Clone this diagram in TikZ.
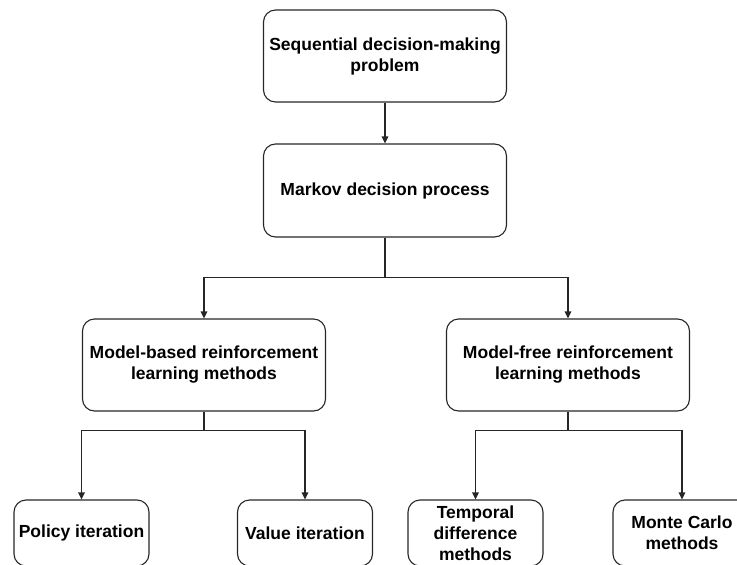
\documentclass[tikz,border=0pt]{standalone}
\usepackage{fontspec}
\setmainfont{Liberation Sans}
\usetikzlibrary{arrows.meta}
\begin{document}
\begin{tikzpicture}[x=1pt,y=-1pt,
  box/.style={draw=black!85, line width=1.1pt, rounded corners=12pt, align=center,
    font=\fontsize{17.5}{21}\selectfont\bfseries, inner sep=1pt},
  big/.style={box, minimum width=243pt, minimum height=92pt},
  small/.style={box, minimum width=135pt, minimum height=66pt},
  conn/.style={draw=black!85, line width=1.1pt},
  arr/.style={conn, -{Triangle[length=7pt,width=6.5pt]}}]
\useasboundingbox (0,0) rectangle (737,565);
\node[big] (seq) at (385,56) {Sequential decision-making\\problem};
\node[big, minimum height=93pt] (mdp) at (385,190.5) {Markov decision process};
\node[big] (mb) at (204,365) {Model-based reinforcement\\learning methods};
\node[big] (mf) at (568,365) {Model-free reinforcement\\learning methods};
\node[small] (pi) at (81.5,533) {Policy iteration};
\node[small] (vi) at (305,533) {Value iteration};
\node[small] (td) at (475.5,533) {Temporal\\difference\\methods};
\node[small, minimum width=138pt] (mc) at (682,533) {Monte Carlo\\methods};
\draw[arr] (seq) -- (mdp);
\draw[arr] (mdp.south) -- ++(0,40) -| (mb.north);
\draw[arr] (mdp.south) -- ++(0,40) -| (mf.north);
\draw[arr] (mb.south) -- ++(0,19) -| (pi.north);
\draw[arr] (mb.south) -- ++(0,19) -| (vi.north);
\draw[arr] (mf.south) -- ++(0,19) -| (td.north);
\draw[arr] (mf.south) -- ++(0,19) -| (mc.north);
\end{tikzpicture}
\end{document}
